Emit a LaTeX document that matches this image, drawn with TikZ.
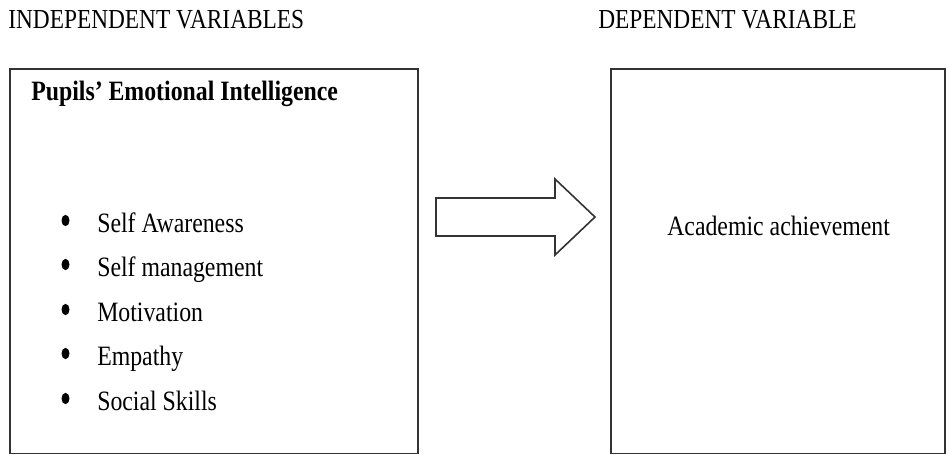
\documentclass[tikz,border=0pt]{standalone}
\usepackage{fontspec}
\setmainfont{Liberation Serif}[FakeStretch=0.85]
\usetikzlibrary{positioning,shapes.geometric}

\begin{document}
\begin{tikzpicture}[
    x=0.75pt, y=-0.75pt,
    box/.style={draw=black!80, line width=1.3pt, rectangle, anchor=north west, inner sep=0pt},
    heading/.style={anchor=base west, inner sep=0pt, font=\fontsize{20.6}{24}\selectfont},
    entry/.style={anchor=base west, inner sep=0pt, font=\fontsize{21}{25}\selectfont},
    bulletmark/.style={ellipse, fill=black, inner sep=0pt, minimum width=6pt, minimum height=8.5pt},
    block arrow/.style={draw=black!80, line width=1.2pt, fill=white, line join=miter}
  ]
  \useasboundingbox (0,0) rectangle (949,454);

  % column headings
  \node[heading] (ivhead) at (8,28)   {INDEPENDENT VARIABLES};
  \node[heading] (dvhead) at (598,28) {DEPENDENT VARIABLE};

  % the two boxes
  \node[box, minimum width=306pt, minimum height=288.5pt]   (ivbox) at (9,68)   {};
  \node[box, minimum width=250.5pt, minimum height=288.5pt] (dvbox) at (610,68) {};

  % left box contents
  \node[entry, font=\fontsize{21}{25}\selectfont\bfseries] (eititle) at (31,100)
    {Pupils’ Emotional Intelligence};

  \node[bulletmark] (b1) at (65.5,220.5) {};
  \node[entry]      (sa) at (97,232) {Self Awareness};
  \node[bulletmark] (b2) at (65.5,264.5) {};
  \node[entry]      (sm) at (97,276) {Self management};
  \node[bulletmark] (b3) at (65.5,309.5) {};
  \node[entry]      (mo) at (97,321) {Motivation};
  \node[bulletmark] (b4) at (65.5,353.5) {};
  \node[entry]      (em) at (97,365) {Empathy};
  \node[bulletmark] (b5) at (65.5,398.5) {};
  \node[entry]      (ss) at (97,410) {Social Skills};

  % right box contents
  \node[entry] (acad) at (667,235) {Academic achievement};

  % block arrow between the boxes
  \draw[block arrow] (436,198) -- (555,198) -- (555,179) -- (595,217)
    -- (555,255) -- (555,236) -- (436,236) -- cycle;

\end{tikzpicture}
\end{document}
